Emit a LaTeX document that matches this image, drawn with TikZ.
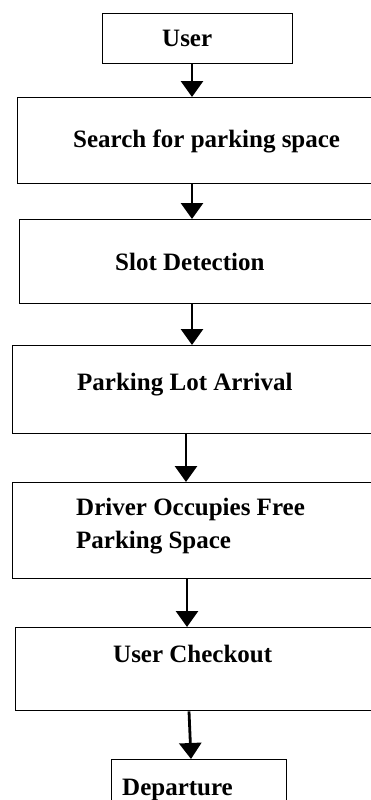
\documentclass[tikz,border=0pt]{standalone}
\usepackage{fontspec}
\setmainfont{Liberation Serif}
\usetikzlibrary{arrows.meta}
\begin{document}
\begin{tikzpicture}[x=1pt,y=-1pt,
  box/.style={draw=black,line width=1.3pt,inner sep=0pt,anchor=north west,rectangle},
  lbl/.style={inner sep=0pt,font=\fontsize{25}{33}\selectfont\bfseries},
  arr/.style={line width=2.8pt,-{Triangle[width=22pt,length=16pt]}}]
\useasboundingbox (0,0) rectangle (371,800);
\clip (0,0) rectangle (371,800);
% boxes
\node[box,minimum width=190pt,minimum height=50pt] (u) at (102,13) {};
\node[box,minimum width=380pt,minimum height=86pt] (s) at (17,97) {};
\node[box,minimum width=380pt,minimum height=84pt] (d) at (19,219) {};
\node[box,minimum width=380pt,minimum height=88pt] (p) at (12,345) {};
\node[box,minimum width=380pt,minimum height=96pt] (o) at (12,482) {};
\node[box,minimum width=380pt,minimum height=83pt] (c) at (15,627) {};
\node[box,minimum width=175pt,minimum height=70pt] (e) at (111,759) {};
% labels
\node[lbl,anchor=base west] (tu) at (162,47) {User};
\node[lbl,anchor=base west] (ts) at (73,147) {Search for parking space};
\node[lbl,anchor=base west] (td) at (115,270) {Slot Detection};
\node[lbl,anchor=base west] (tp) at (77,390) {Parking Lot Arrival};
\node[lbl,anchor=base west] (to1) at (76,515) {Driver Occupies Free};
\node[lbl,anchor=base west] (to2) at (76,548) {Parking Space};
\node[lbl,anchor=base west] (tc) at (113,662) {User Checkout};
\node[lbl,anchor=base west] (te) at (122,795) {Departure};
% connectors
\coordinate (a1) at (192,0);
\coordinate (a4) at (186,0);
\coordinate (a5) at (187,0);
\coordinate (a6s) at (189,0);
\coordinate (a6e) at (191,0);
\draw[arr] (u.south -| a1) -- (s.north -| a1);
\draw[arr] (s.south -| a1) -- (d.north -| a1);
\draw[arr] (d.south -| a1) -- (p.north -| a1);
\draw[arr] (p.south -| a4) -- (o.north -| a4);
\draw[arr] (o.south -| a5) -- (c.north -| a5);
\draw[arr] (c.south -| a6s) -- (e.north -| a6e);
\end{tikzpicture}
\end{document}
